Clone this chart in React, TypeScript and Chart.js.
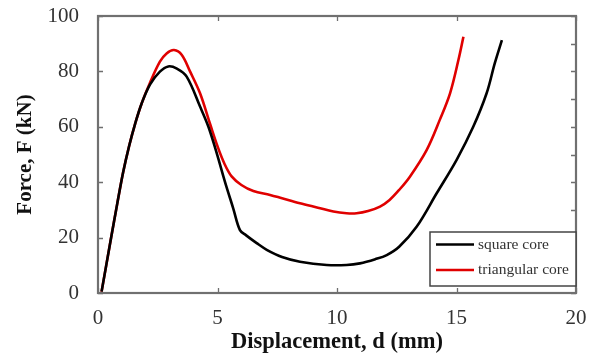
import React, { useEffect, useRef } from "react";
import { Chart, registerables } from "chart.js";

Chart.register(...registerables);

// Displacement (mm) / Force (kN)
const squareX = [0.15, 0.55, 0.8, 1.05, 1.3, 1.55, 1.83, 2.18, 2.59, 2.94, 3.3, 3.71, 4.27, 4.62, 4.97, 5.3, 5.66, 5.94, 6.2, 6.64, 7.06, 7.7, 8.45, 9.57, 10.4, 10.96, 11.6, 12.08, 12.6, 13.33, 14.17, 15.0, 15.7, 16.26, 16.6, 16.9];
const squareY = [0.5, 20, 32, 43.5, 53, 61, 68.5, 75.3, 79.9, 81.8, 81, 78.1, 67.3, 60, 50.4, 40.5, 30.5, 22.7, 20.8, 18.0, 15.6, 13, 11.3, 10.1, 10.1, 10.7, 12.2, 13.7, 16.7, 23.9, 36, 48, 60, 72.1, 82.9, 91.3];

const triX = [0.15, 0.55, 0.8, 1.05, 1.3, 1.55, 1.83, 2.18, 2.59, 2.87, 3.18, 3.5, 3.85, 4.27, 4.69, 5.0, 5.3, 5.6, 6.0, 6.5, 7.2, 7.7, 8.45, 9.2, 9.85, 10.4, 10.82, 11.3, 11.8, 12.2, 12.6, 13.05, 13.75, 14.3, 14.73, 15.08, 15.29];
const triY = [0.5, 20, 32, 43.5, 53, 61, 68.5, 76, 83.5, 86.5, 87.7, 86, 80, 72.1, 61, 53, 46.5, 42, 39, 36.8, 35.4, 34.2, 32.4, 30.8, 29.4, 28.8, 28.8, 29.6, 31.2, 33.6, 37.2, 42, 51.6, 62.5, 72.1, 84.1, 92.5];

const seriesLabels = ["square core", "triangular core"];
const seriesColors = ["#000000", "#e00000"];

const xTicks = [0, 5, 10, 15, 20];
const yTicksLeft = [0, 20, 40, 60, 80, 100];
const yTicksRight = [0, 10, 20, 30, 40, 50, 60, 70, 80, 90, 100];

const xTitle = "Displacement, d (mm)";
const yTitle = "Force, F (kN)";

const SERIF = "'Liberation Serif', 'Times New Roman', serif";

const framePlugin = {
  id: "frame",
  beforeDatasetsDraw(chart: any) {
    const { ctx, chartArea: a, scales } = chart;
    const xs = scales.x;
    const ys = scales.y;
    ctx.save();
    ctx.strokeStyle = "#6e6e6e";
    ctx.lineWidth = 1.3;
    const tl = 5;
    ctx.beginPath();
    xTicks.forEach((v) => {
      const px = Math.round(xs.getPixelForValue(v)) + 0.5;
      ctx.moveTo(px, a.bottom);
      ctx.lineTo(px, a.bottom - tl);
      ctx.moveTo(px, a.top);
      ctx.lineTo(px, a.top + tl);
    });
    yTicksLeft.forEach((v) => {
      const py = Math.round(ys.getPixelForValue(v)) + 0.5;
      ctx.moveTo(a.left, py);
      ctx.lineTo(a.left + tl, py);
    });
    yTicksRight.forEach((v) => {
      const py = Math.round(ys.getPixelForValue(v)) + 0.5;
      ctx.moveTo(a.right, py);
      ctx.lineTo(a.right - tl, py);
    });
    ctx.stroke();
    ctx.lineWidth = 2.2;
    ctx.strokeStyle = "#707070";
    ctx.strokeRect(a.left, a.top, a.right - a.left, a.bottom - a.top);
    ctx.restore();
  },
};

const legendPlugin = {
  id: "boxLegend",
  afterDraw(chart: any) {
    const { ctx, chartArea: a } = chart;
    const w = 146;
    const h = 54;
    const x0 = a.right - w;
    const y0 = a.bottom - h - 7;
    ctx.save();
    ctx.fillStyle = "#ffffff";
    ctx.fillRect(x0, y0, w, h);
    ctx.strokeStyle = "#444444";
    ctx.lineWidth = 1.5;
    ctx.strokeRect(x0, y0, w, h);
    ctx.font = `15.5px ${SERIF}`;
    ctx.textBaseline = "middle";
    ctx.textAlign = "left";
    chart.data.datasets.forEach((ds: any, i: number) => {
      const yy = y0 + 12.5 + i * 25.5;
      ctx.strokeStyle = ds.borderColor;
      ctx.lineWidth = 2.5;
      ctx.beginPath();
      ctx.moveTo(x0 + 6, yy);
      ctx.lineTo(x0 + 44, yy);
      ctx.stroke();
      ctx.fillStyle = "#333333";
      ctx.fillText(ds.label, x0 + 48, yy);
    });
    ctx.restore();
  },
};

export default function App() {
  const ref = useRef<HTMLCanvasElement | null>(null);

  useEffect(() => {
    if (!ref.current) return;
    const toPts = (xs: number[], ys: number[]) => xs.map((x, i) => ({ x, y: ys[i] }));
    const chart = new Chart(ref.current, {
      type: "scatter",
      data: {
        datasets: [
          {
            label: seriesLabels[0],
            data: toPts(squareX, squareY),
            borderColor: seriesColors[0],
            backgroundColor: seriesColors[0],
            showLine: true,
            pointRadius: 0,
            borderWidth: 2.6,
            tension: 0.35,
          },
          {
            label: seriesLabels[1],
            data: toPts(triX, triY),
            borderColor: seriesColors[1],
            backgroundColor: seriesColors[1],
            showLine: true,
            pointRadius: 0,
            borderWidth: 2.6,
            tension: 0.35,
          },
        ],
      },
      options: {
        animation: false,
        responsive: false,
        maintainAspectRatio: false,
        layout: { padding: { left: 0, top: 16, right: 19, bottom: 0 } },
        plugins: {
          legend: { display: false },
          tooltip: { enabled: false },
        },
        scales: {
          x: {
            type: "linear",
            min: 0,
            max: 20,
            grid: { display: false, drawTicks: false },
            border: { display: false },
            ticks: {
              stepSize: 5,
              padding: 13,
              color: "#333333",
              font: { family: SERIF, size: 21 },
            },
            title: {
              display: true,
              text: xTitle,
              color: "#111111",
              font: { family: SERIF, size: 22.5, weight: "bold" },
              padding: { top: 4, bottom: 4 },
            },
            afterFit: (s: any) => {
              s.height = 67;
              s.paddingLeft = 0;
              s.paddingRight = 0;
            },
          },
          y: {
            type: "linear",
            min: 0,
            max: 100,
            grid: { display: false, drawTicks: false },
            border: { display: false },
            ticks: {
              stepSize: 20,
              padding: 19,
              color: "#333333",
              font: { family: SERIF, size: 21 },
            },
            title: {
              display: true,
              text: yTitle,
              color: "#111111",
              font: { family: SERIF, size: 21, weight: "bold" },
              padding: { top: 13, bottom: 13 },
            },
            afterFit: (s: any) => {
              s.width = 98;
              s.paddingTop = 0;
              s.paddingBottom = 0;
            },
          },
        },
      },
      plugins: [framePlugin, legendPlugin],
    });
    return () => chart.destroy();
  }, []);

  return (
    <div style={{ position: "fixed", left: 0, top: 0, width: 595, height: 360, background: "#fff" }}>
      <canvas ref={ref} width={595} height={360} style={{ display: "block", width: 595, height: 360 }} />
    </div>
  );
}
